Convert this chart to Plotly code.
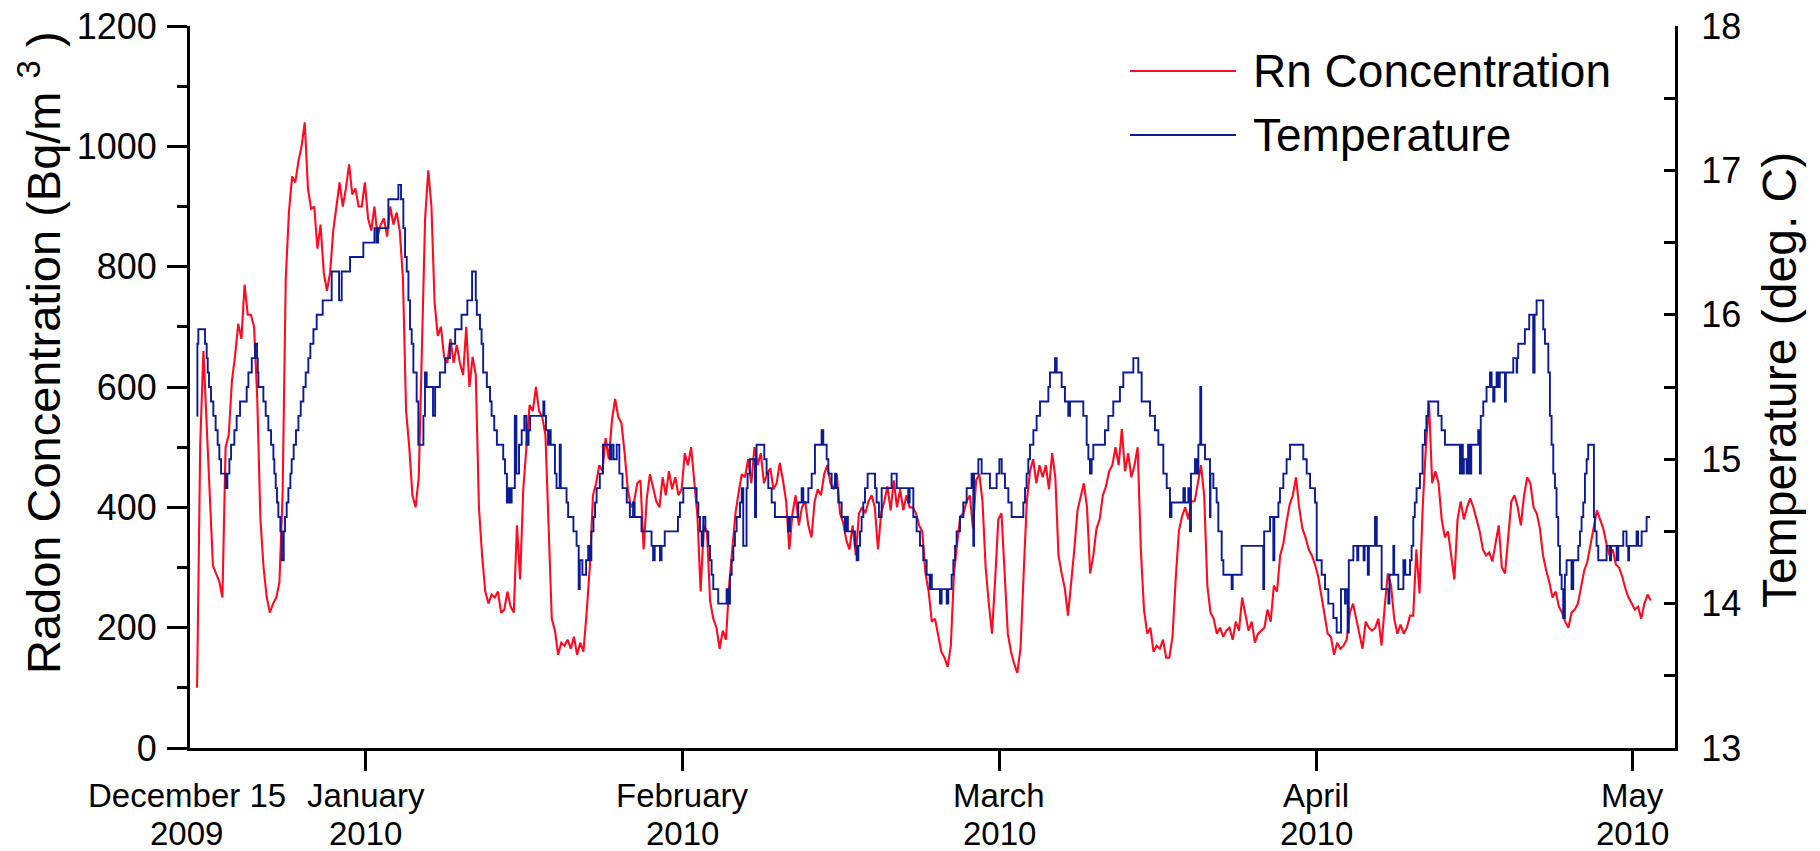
import numpy as np
import plotly.graph_objects as go

# x axis: days since 15 December 2009
# Radon concentration (Bq/m3), sampled every 0.3 day starting at day 1.0
rn_start_day = 1.0
rn_step_day = 0.3
rn_values = [
    # day 1.0 - 23.2
    100, 507, 660, 540, 395, 303, 290, 277, 250, 500,
    520, 610, 652, 705, 680, 770, 720, 720, 700, 580,
    380, 300, 250, 225, 240, 250, 275, 420, 780, 890,
    950, 940, 975, 1000, 1040, 930, 896, 900, 830, 870,
    790, 760, 790, 860, 900, 940, 900, 930, 970, 920,
    930, 900, 900, 940, 880, 860, 900, 850, 870, 880,
    850, 900, 870, 890, 860, 780, 560, 500, 420, 400,
    450, 650, 880, 960, 900,
    # day 23.5 - 46.6
    740, 685, 700, 650, 640, 680, 640, 670, 640, 620,
    700, 600, 650, 620, 400, 320, 260, 240, 255, 250,
    260, 225, 230, 260, 235, 225, 370, 280, 430, 500,
    570, 560, 600, 560, 550, 520, 350, 215, 195, 155,
    175, 170, 180, 165, 185, 155, 175, 160, 225, 300,
    420, 440, 470, 460, 515, 480, 545, 580, 550, 540,
    490, 430, 400, 410, 440, 445, 330, 415, 455, 430,
    410, 400, 450, 420, 460, 430, 450, 420,
    # day 46.9 - 69.7
    430, 490, 470, 500, 445, 385, 260, 370, 360, 244,
    215, 200, 165, 195, 180, 270, 330, 390, 425, 455,
    450, 480, 440, 500, 470, 490, 440, 455, 465, 430,
    440, 474, 445, 410, 330, 390, 420, 370, 400, 410,
    370, 350, 410, 430, 420, 455, 470, 440, 430, 455,
    390, 375, 345, 330, 370, 320, 390, 400, 390, 410,
    420, 400, 330, 390, 410, 435, 395, 445, 400, 430,
    395, 420, 400, 400, 390, 370, 360,
    # day 70.0 - 92.8
    290, 260, 210, 215, 190, 160, 150, 135, 170, 290,
    340, 385, 390, 410, 420, 365, 445, 455, 410, 300,
    240, 190, 280, 380, 390, 280, 190, 160, 140, 125,
    165, 290, 410, 460, 480, 440, 470, 450, 470, 430,
    490, 450, 320, 290, 265, 220, 270, 330, 395, 420,
    440, 400, 290, 320, 365, 380, 420, 435, 460, 470,
    500, 470, 530, 460, 490, 450, 470, 500, 330, 230,
    190, 200, 160, 170, 165, 180, 150,
    # day 93.1 - 116.2
    150, 185, 280, 360, 385, 400, 380, 410, 410, 440,
    470, 420, 270, 225, 215, 190, 200, 185, 195, 200,
    180, 210, 195, 250, 220, 195, 210, 175, 190, 195,
    200, 230, 210, 270, 260, 320, 340, 375, 405, 420,
    450, 400, 365, 350, 330, 320, 305, 285, 255, 220,
    190, 185, 155, 175, 165, 170, 180, 225, 240, 215,
    190, 165, 210, 200, 195, 200, 215, 170, 235, 290,
    270, 215, 190, 205, 190, 200, 220, 220,
    # day 116.5 - 138.7
    330, 257, 400, 500, 573, 440, 460, 440, 380, 350,
    360, 320, 280, 380, 410, 380, 400, 415, 400, 380,
    360, 330, 320, 325, 310, 340, 370, 300, 290, 350,
    410, 420, 400, 370, 420, 450, 440, 400, 390, 365,
    320, 295, 275, 250, 260, 235, 225, 210, 200, 225,
    230, 240, 270, 295, 310, 340, 370, 395, 380, 365,
    340, 320, 330, 305, 300, 285, 265, 250, 240, 230,
    235, 215, 240, 255, 245,
]
rn_days = rn_start_day + rn_step_day * np.arange(len(rn_values))

# Temperature (deg C): step record, (day when reading changes, new reading)
temp_days = [
    0.97, 1.03, 1.12, 1.75, 1.91, 2.01, 2.13, 2.32, 2.54, 2.76, 2.95, 3.11, 3.27, 3.71, 3.87,
    4.06, 4.22, 4.53, 4.75, 5.07, 5.70, 5.86, 6.18, 6.49, 6.68, 6.75, 6.81, 7.28, 7.50, 7.75,
    8.01, 8.23, 8.32, 8.45, 8.57, 8.70, 8.89, 9.02, 9.21, 9.33, 9.49, 9.65, 9.84, 9.96, 10.15,
    10.37, 10.60, 10.82, 11.07, 11.29, 11.54, 11.73, 12.02, 12.33, 12.90, 13.75, 14.45, 14.70, 15.49, 16.75,
    17.80, 18.0, 18.15, 19.12, 20.07, 20.32, 20.54, 20.70, 20.86, 21.02, 21.17, 21.33, 21.49, 21.80, 21.96,
    22.44, 22.59, 22.75, 23.35, 23.55, 24.0, 24.5, 24.95, 25.45, 26.05, 26.6, 27.05, 27.4, 27.5, 27.8,
    27.95, 28.1, 28.45, 28.75, 28.9, 29.15, 29.4, 30.0, 30.17, 30.35, 30.5, 30.65, 30.8, 31.1, 31.25,
    31.5, 31.75, 32.0, 32.2, 32.4, 32.55, 33.8, 33.9, 34.05, 34.25, 34.4, 34.5, 34.9, 35.05, 35.35,
    35.45, 36.0, 36.15, 36.65, 36.95, 37.15, 37.25, 37.5, 37.85, 38.05, 38.2, 38.35, 38.55, 38.7, 38.85,
    39.15, 39.45, 40.1, 40.25, 40.45, 40.75, 41.0, 41.3, 41.7, 42.0, 42.3, 42.45, 43.1, 44.05, 44.2,
    44.35, 44.85, 45.0, 45.3, 46.55, 46.74, 47.06, 48.32, 48.48, 48.64, 48.80, 48.95, 49.15, 49.43, 49.59,
    49.74, 49.9, 50.37, 51.16, 51.3, 51.48, 51.64, 51.8, 51.95, 52.11, 52.43, 52.59, 52.74, 53.05, 53.15,
    53.37, 53.85, 53.95, 54.0, 54.73, 54.95, 55.11, 55.43, 55.74, 57.0, 57.16, 57.95, 58.27, 58.43, 58.9,
    59.22, 59.53, 60.16, 60.32, 60.64, 60.8, 61.11, 61.43, 61.55, 61.74, 62.06, 62.37, 62.5, 62.65, 63.32,
    63.48, 63.64, 63.8, 63.95, 64.11, 64.27, 64.52, 65.22, 65.37, 65.59, 65.85, 66.79, 67.27, 68.37, 68.5,
    68.85, 69.16, 69.48, 69.79, 70.11, 70.4, 70.5, 70.6, 71.37, 71.53, 72.01, 72.16, 72.48, 72.64, 72.8,
    72.95, 73.27, 73.58, 73.9, 74.37, 74.53, 74.6, 75.01, 75.32, 76.11, 76.74, 77.0, 77.22, 77.53, 77.85,
    78.16, 79.27, 79.43, 79.58, 79.74, 79.9, 80.22, 80.53, 80.85, 81.64, 81.79, 82.27, 82.43, 82.9, 83.21,
    83.53, 83.69, 84.95, 85.27, 85.43, 85.58, 85.74, 85.9, 87.0, 87.32, 87.79, 88.42, 88.74, 89.69, 90.16,
    90.48, 91.27, 91.74, 92.06, 92.53, 92.85, 93.16, 93.3, 94.43, 94.58, 94.9, 95.06, 95.15, 95.53, 95.69,
    95.85, 96.03, 96.12, 96.48, 96.95, 97.0, 97.27, 97.58, 97.74, 98.06, 98.22, 99.0, 99.1, 99.95, 102.0,
    102.08, 102.64, 102.95, 103.05, 103.43, 103.58, 103.9, 104.21, 104.53, 105.79, 106.11, 106.43, 106.9, 107.06, 107.53,
    107.85, 108.16, 108.64, 108.95, 109.36, 109.74, 109.8, 109.99, 110.1, 110.53, 110.9, 111.0, 111.5, 111.6, 111.9,
    112.0, 112.58, 112.75, 113.21, 113.85, 113.95, 114.32, 114.4, 114.79, 115.27, 115.45, 115.9, 116.05, 116.21, 116.35,
    116.52, 116.84, 117.09, 117.31, 117.45, 117.63, 118.57, 118.89, 119.21, 120.63, 120.75, 120.9, 121.0, 121.26, 121.4,
    121.57, 121.7, 122.36, 122.52, 122.6, 122.84, 123.15, 123.47, 123.63, 123.78, 123.9, 124.1, 124.26, 124.4, 124.89,
    124.98, 125.68, 126.0, 126.05, 126.15, 126.78, 127.19, 127.57, 127.7, 127.89, 128.52, 128.68, 129.0, 129.15, 129.31,
    129.47, 129.63, 129.78, 129.94, 130.1, 130.26, 130.41, 130.57, 130.73, 131.2, 131.36, 131.84, 132.0, 132.15, 132.31,
    132.47, 132.63, 132.78, 133.32, 133.41, 133.57, 133.73, 134.52, 134.84, 134.95, 135.47, 135.63, 136.1, 136.41, 136.57,
    136.65, 137.36, 137.5, 137.84, 138.31, 138.65,
]
temp_values = [
    15.3, 15.8, 15.9, 15.8, 15.7, 15.6, 15.5, 15.4, 15.3, 15.2, 15.1, 15.0, 14.9, 14.8, 14.9,
    15.0, 15.1, 15.2, 15.3, 15.4, 15.5, 15.6, 15.7, 15.8, 15.7, 15.6, 15.5, 15.4, 15.3, 15.2,
    15.1, 15.0, 14.9, 14.8, 14.7, 14.6, 14.5, 14.3, 14.5, 14.6, 14.7, 14.8, 14.9, 15.0, 15.1,
    15.2, 15.3, 15.4, 15.5, 15.6, 15.7, 15.8, 15.9, 16.0, 16.1, 16.3, 16.1, 16.3, 16.4, 16.5,
    16.6, 16.5, 16.6, 16.8, 16.9, 16.8, 16.6, 16.4, 16.3, 16.1, 15.9, 15.8, 15.6, 15.4, 15.1,
    15.3, 15.6, 15.5, 15.3, 15.5, 15.6, 15.7, 15.8, 15.9, 16.0, 16.1, 16.3, 16.1, 16.0, 15.9,
    15.8, 15.6, 15.5, 15.4, 15.3, 15.2, 15.1, 15.0, 14.9, 14.7, 14.8, 14.7, 14.8, 15.3, 14.9,
    15.1, 15.2, 15.3, 15.1, 15.2, 15.3, 15.4, 15.3, 15.2, 15.1, 15.2, 15.1, 14.9, 14.8, 15.1,
    14.8, 14.7, 14.6, 14.5, 14.4, 14.1, 14.3, 14.2, 14.3, 14.4, 14.3, 14.5, 14.6, 14.7, 14.8,
    14.9, 15.1, 15.0, 15.1, 15.0, 15.1, 14.9, 14.8, 14.7, 14.6, 14.7, 14.6, 14.5, 14.4, 14.3,
    14.4, 14.3, 14.4, 14.5, 14.6, 14.7, 14.8, 14.7, 14.6, 14.5, 14.4, 14.6, 14.5, 14.4, 14.3,
    14.2, 14.1, 14.0, 14.1, 14.0, 14.2, 14.3, 14.4, 14.5, 14.6, 14.7, 14.8, 14.4, 14.8, 14.9,
    15.0, 14.6, 15.0, 15.1, 15.0, 14.9, 14.8, 14.7, 14.6, 14.5, 14.6, 14.7, 14.8, 14.7, 14.8,
    14.9, 15.1, 15.2, 15.1, 15.0, 14.9, 14.8, 14.9, 14.8, 14.7, 14.6, 14.5, 14.6, 14.5, 14.4,
    14.3, 14.4, 14.5, 14.6, 14.7, 14.8, 14.9, 14.8, 14.7, 14.6, 14.8, 14.9, 14.8, 14.7, 14.8,
    14.6, 14.5, 14.4, 14.3, 14.2, 14.1, 14.2, 14.1, 14.0, 14.1, 14.0, 14.1, 14.2, 14.3, 14.4,
    14.5, 14.6, 14.7, 14.8, 14.9, 14.4, 14.9, 15.0, 14.9, 14.8, 14.9, 15.0, 14.9, 14.8, 14.7,
    14.6, 14.7, 14.8, 14.9, 15.0, 15.1, 15.2, 15.3, 15.4, 15.5, 15.6, 15.7, 15.6, 15.5, 15.4,
    15.3, 15.4, 15.3, 15.1, 15.0, 14.9, 15.0, 15.1, 15.2, 15.3, 15.4, 15.5, 15.6, 15.7, 15.6,
    15.4, 15.3, 15.2, 15.1, 14.9, 14.8, 14.6, 14.7, 14.8, 14.7, 14.8, 14.5, 14.9, 15.0, 14.9,
    15.1, 15.5, 15.1, 15.0, 14.6, 14.9, 14.8, 14.7, 14.5, 14.3, 14.2, 14.1, 14.2, 14.4, 14.1,
    14.5, 14.6, 14.3, 14.6, 14.7, 14.8, 14.9, 15.0, 15.1, 15.0, 14.9, 14.8, 14.7, 14.3, 14.2,
    14.1, 14.0, 13.9, 13.8, 14.1, 14.0, 14.1, 13.8, 14.3, 14.4, 14.3, 14.4, 14.3, 14.4, 14.2,
    14.4, 14.6, 14.4, 14.1, 14.0, 14.2, 14.4, 14.2, 14.1, 14.3, 14.2, 14.3, 14.4, 14.6, 14.7,
    14.8, 14.9, 15.1, 15.2, 15.3, 15.4, 15.3, 15.2, 15.1, 14.9, 15.1, 14.9, 15.0, 14.9, 15.1,
    14.9, 15.1, 15.2, 14.9, 15.3, 15.4, 15.5, 15.6, 15.5, 15.4, 15.5, 15.6, 15.5, 15.6, 15.4,
    15.6, 15.7, 15.6, 15.7, 15.8, 15.9, 16.0, 15.6, 16.0, 16.1, 15.9, 15.8, 15.6, 15.3, 15.1,
    14.9, 14.8, 14.6, 14.4, 14.2, 14.1, 13.9, 14.2, 14.3, 14.1, 14.3, 14.4, 14.5, 14.6, 14.7,
    14.9, 15.0, 15.1, 14.6, 14.5, 14.4, 14.3, 14.4, 14.3, 14.4, 14.3, 14.4, 14.5, 14.4, 14.3,
    14.4, 14.5, 14.4, 14.5, 14.6, 14.6,
]

# x-axis labels (first label sits at the start of the axis, day 0)
label_days = [0, 17, 47, 77, 107, 137]
label_months = ["December 15", "January", "February", "March", "April", "May"]
label_years = ["2009", "2010", "2010", "2010", "2010", "2010"]
x_range = [0.33, 141.0]

series_names = ["Rn Concentration", "Temperature"]
RED = "#FF0A1E"
BLUE = "#0B1B96"
FONT = "Liberation Sans, Arial, sans-serif"

fig = go.Figure()
fig.add_trace(go.Scatter(
    x=rn_days, y=rn_values, mode="lines", name=series_names[0],
    line=dict(color=RED, width=2.1), showlegend=False, yaxis="y"))
fig.add_trace(go.Scatter(
    x=temp_days, y=temp_values, mode="lines", name=series_names[1],
    line=dict(color=BLUE, width=1.9, shape="hv"), showlegend=False, yaxis="y2"))

axis_common = dict(showgrid=False, zeroline=False, showline=True, automargin=False,
                   linecolor="black", linewidth=3, tickcolor="black")

fig.update_layout(
    width=1820, height=851,
    margin=dict(l=190, r=145, t=26, b=103),
    paper_bgcolor="white", plot_bgcolor="white",
    font=dict(family=FONT, color="black"),
    xaxis=dict(**axis_common, range=x_range,
               tickmode="array", tickvals=label_days[1:], showticklabels=False,
               ticks="outside", ticklen=20, tickwidth=2.5),
    yaxis=dict(**axis_common, range=[0, 1200], tickmode="linear", tick0=0, dtick=200,
               ticks="outside", ticklen=20, tickwidth=2.5, ticklabelstandoff=3,
               tickfont=dict(size=36, family=FONT),
               minor=dict(ticks="outside", ticklen=10, tickwidth=2.5, dtick=100, tick0=0,
                          tickcolor="black")),
    yaxis2=dict(**axis_common, range=[13, 18], overlaying="y", side="right",
                tickmode="linear", tick0=13, dtick=1,
                ticks="inside", ticklen=11, tickwidth=2.5, ticklabelstandoff=16,
                tickfont=dict(size=36, family=FONT),
                minor=dict(ticks="inside", ticklen=11, tickwidth=2.5, dtick=0.5, tick0=13,
                           tickcolor="black")),
)

annotations = []
span = x_range[1] - x_range[0]
for d, m, yr in zip(label_days, label_months, label_years):
    xp = (d - x_range[0]) / span
    annotations.append(dict(text=m, x=xp, xref="paper", y=0, yref="paper",
                            xanchor="center", yanchor="middle", yshift=-47,
                            showarrow=False, font=dict(size=33, family=FONT)))
    annotations.append(dict(text=yr, x=xp, xref="paper", y=0, yref="paper",
                            xanchor="center", yanchor="middle", yshift=-85,
                            showarrow=False, font=dict(size=33, family=FONT)))
annotations += [
    dict(text="Radon Concentration (Bq/m <sup>3</sup> )", x=-0.101, y=0.547,
         xref="paper", yref="paper", textangle=-90, showarrow=False,
         xanchor="center", yanchor="middle", font=dict(size=47, family=FONT)),
    dict(text="Temperature (deg. C)", x=1.0707, y=0.5097,
         xref="paper", yref="paper", textangle=-90, showarrow=False,
         xanchor="center", yanchor="middle", font=dict(size=48, family=FONT)),
]
legend_rows = [(series_names[0], RED, 0.9377), (series_names[1], BLUE, 0.849)]
shapes = []
for name, color, ypos in legend_rows:
    shapes.append(dict(type="line", xref="paper", yref="paper", x0=0.633, x1=0.7044,
                       y0=ypos, y1=ypos, line=dict(color=color, width=2)))
    annotations.append(dict(text=name, x=0.7145, y=ypos, xref="paper", yref="paper",
                            xanchor="left", yanchor="middle", showarrow=False,
                            font=dict(size=46, family=FONT)))
fig.update_layout(annotations=annotations, shapes=shapes)

fig.write_html("out.html")
